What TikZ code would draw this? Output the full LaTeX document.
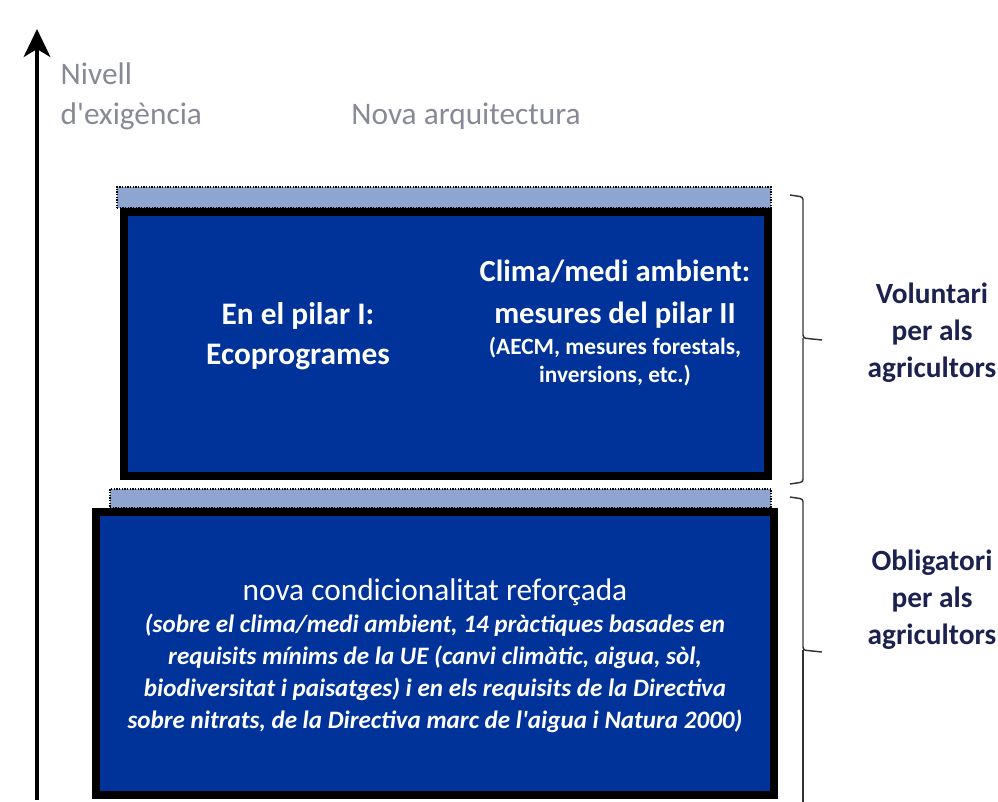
\documentclass[tikz,border=0pt]{standalone}
\usepackage{fontspec}
\setmainfont{Carlito}
\usetikzlibrary{positioning,arrows.meta}
\definecolor{boxblue}{RGB}{0,51,153}
\definecolor{stripblue}{RGB}{142,165,210}
\definecolor{labelgrey}{RGB}{135,138,150}
\definecolor{sidenavy}{RGB}{28,34,80}
\def\pxu{0.75pt}
\tikzset{
  levelbox/.style={draw=black, line width=6pt, fill=boxblue, inner sep=0pt},
  strip/.style={draw=black, densely dotted, line width=1pt, fill=stripblue, inner sep=0pt},
  boxtext/.style={text=white, align=center, inner sep=0pt},
  sidetext/.style={text=sidenavy, align=center, font=\fontsize{22}{27.75}\selectfont\bfseries},
  axistext/.style={text=labelgrey, align=left, font=\fontsize{23.5}{30}\selectfont},
  brace/.style={draw=black!80, line width=1.1pt, rounded corners=2pt}
}
\begin{document}
\begin{tikzpicture}[x=0.75pt, y=-0.75pt]
  \useasboundingbox (0,0) rectangle (998,801);
  % level axis
  \coordinate (axisfoot) at (37,800);
  \coordinate (axishead) at (37,29);
  \draw[line width=2.6pt, -{Stealth[length=21pt, width=20pt, inset=6pt]}] (axisfoot) -- (axishead);
  \node[axistext, anchor=west] (nivell) at (56,96) {Nivell\\d\textquotesingle exigència};
  \node[text=labelgrey, font=\fontsize{23.5}{30}\selectfont] (nova) at (466,116) {Nova arquitectura};
  % voluntary level
  \node[strip, minimum width=654*\pxu, minimum height=21*\pxu] (striptop) at (444,197.5) {};
  \node[levelbox, minimum width=644*\pxu, minimum height=264*\pxu] (voluntbox) at (446,344) {};
  \node[boxtext, font=\fontsize{23.5}{30}\selectfont\bfseries] (pilarI) at (298,336) {En el pilar I:\\Ecoprogrames};
  \node[boxtext, font=\fontsize{23}{31.5}\selectfont\bfseries] (climaHead) at (615,294) {Clima/medi ambient:\\mesures del pilar II};
  \node[boxtext, font=\fontsize{17.5}{21}\selectfont\bfseries, below=6pt of climaHead] (climaNote) {(AECM, mesures forestals,\\inversions, etc.)};
  % compulsory level
  \node[strip, minimum width=661*\pxu, minimum height=19*\pxu] (stripbottom) at (440.5,498.5) {};
  \node[levelbox, minimum width=678*\pxu, minimum height=283*\pxu] (obligbox) at (435,653.5) {};
  \node[boxtext, font=\fontsize{23.5}{30}\selectfont] (condTitle) at (435,592) {nova condicionalitat reforçada};
  \node[boxtext, font=\fontsize{18.8}{24}\selectfont\bfseries\itshape, below=6pt of condTitle] (condNote)
    {(sobre el clima/medi ambient, 14 pràctiques basades en\\requisits mínims de la UE (canvi climàtic, aigua, sòl,\\biodiversitat i paisatges) i en els requisits de la Directiva\\sobre nitrats, de la Directiva marc de l\textquotesingle aigua i Natura 2000)};
  % braces
  \coordinate (volTop) at (790,195);
  \coordinate (volBot) at (790,484);
  \coordinate (volTip) at (822,340);
  \draw[brace] (volTop) -- (803,197) -- (803,338) -- (volTip);
  \draw[brace] (803,338) -- (803,482) -- (volBot);
  \node[sidetext] (volLabel) at (932,333) {Voluntari\\per als\\agricultors};
  \coordinate (oblTop) at (790,497);
  \coordinate (oblBot) at (790,803);
  \coordinate (oblTip) at (822,652);
  \draw[brace] (oblTop) -- (803,499) -- (803,650) -- (oblTip);
  \draw[brace] (803,650) -- (803,803);
  \node[sidetext] (oblLabel) at (932,600) {Obligatori\\per als\\agricultors};
\end{tikzpicture}
\end{document}
